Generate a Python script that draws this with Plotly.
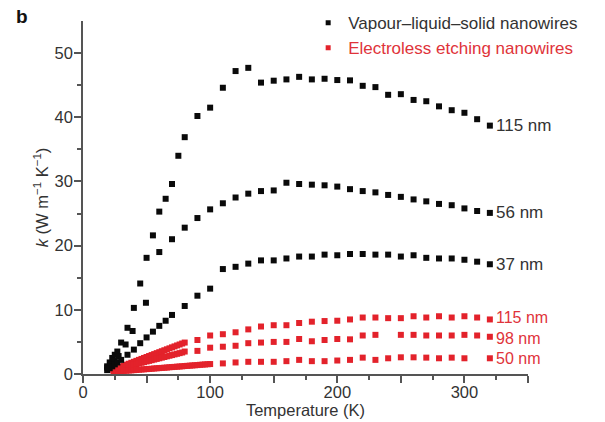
import plotly.graph_objects as go

# ---------------- data ----------------
# Vapour-liquid-solid nanowires (black)
vls115_T = [19, 21, 23, 25, 27, 30, 35, 40, 45, 50, 55, 60, 65, 70, 75, 80, 90, 100, 110, 120, 130, 140, 150,
            160, 170, 180, 190, 200, 210, 220, 230, 240, 250, 260, 270, 280, 290, 300, 310, 320]
vls115_k = [1.2, 1.8, 2.5, 3.0, 3.5, 4.9, 7.2, 10.3, 14.1, 18.1, 21.6, 25.3, 27.3, 29.6, 34.0, 36.9, 40.2, 41.5,
            44.6, 47.2, 47.7, 45.4, 45.7, 45.9, 46.3, 45.9, 46.0, 45.8, 45.75, 44.9, 44.7, 43.5, 43.6, 42.7,
            42.5, 41.7, 41.1, 40.7, 39.7, 38.7]

vls56_T = [19, 22, 25, 28, 33.5, 39, 49.5, 60, 70, 80, 90, 100, 110, 120, 130, 140, 150, 160, 170, 180, 190,
           200, 210, 220, 230, 240, 250, 260, 270, 280, 290, 300, 310, 320]
vls56_k = [1.0, 1.5, 2.1, 2.8, 4.6, 6.7, 11.1, 19.0, 21.0, 22.8, 24.3, 25.65, 26.6, 27.5, 28.1, 28.5, 28.6, 29.8,
           29.6, 29.5, 29.4, 29.2, 28.8, 28.5, 28.3, 27.9, 27.6, 27.2, 26.9, 26.5, 26.3, 25.8, 25.4, 25.1]

vls37_T = [19, 21, 23, 25, 27, 30, 35, 40, 45, 50, 55, 60, 65, 70, 80, 90, 100, 110, 120, 130, 140, 150, 160,
           170, 180, 190, 200, 210, 220, 230, 240, 250, 260, 270, 280, 290, 300, 310, 320]
vls37_k = [0.6, 0.9, 1.2, 1.5, 1.8, 2.2, 3.0, 3.8, 4.8, 5.7, 6.6, 7.5, 8.3, 9.2, 10.6, 12.2, 13.3, 16.35, 16.7,
           17.2, 17.7, 17.7, 18.0, 18.3, 18.3, 18.6, 18.5, 18.7, 18.7, 18.6, 18.6, 18.3, 18.5, 18.1, 18.0, 18.0,
           17.8, 17.5, 17.1]

# Electroless etching nanowires (red)
ee115_T = [24, 26, 28, 30, 32, 34, 36, 38, 40, 42, 44, 46, 48, 50, 52, 54, 56, 58, 60, 62, 64, 66, 68, 70, 72,
           74, 76, 78, 80, 90, 100, 110, 120, 130, 140, 150, 160, 170, 180, 190, 200, 210, 220, 230, 240, 250,
           260, 270, 280, 290, 300, 310, 320]
ee115_k = [0.7, 0.85, 1.0, 1.15, 1.3, 1.45, 1.6, 1.75, 1.9, 2.05, 2.2, 2.35, 2.5, 2.65, 2.8, 2.95, 3.1, 3.25,
           3.4, 3.55, 3.7, 3.85, 4.0, 4.15, 4.3, 4.45, 4.6, 4.75, 4.9, 5.3, 6.0, 6.2, 6.5, 6.95, 7.4, 7.6, 7.6,
           7.95, 8.15, 8.25, 8.3, 8.5, 8.8, 8.8, 8.7, 8.7, 9.0, 8.8, 9.0, 8.8, 9.0, 8.8, 8.5]

ee98_T = [24, 26, 28, 30, 32, 34, 36, 38, 40, 42, 44, 46, 48, 50, 52, 54, 56, 58, 60, 62, 64, 66, 68, 70, 72,
          74, 76, 78, 80, 90, 100, 110, 120, 130, 140, 150, 160, 170, 180, 190, 200, 210, 220, 230, 250, 260,
          270, 280, 290, 300, 310, 320]
ee98_k = [0.6, 0.7, 0.8, 0.95, 1.05, 1.15, 1.25, 1.35, 1.45, 1.55, 1.65, 1.75, 1.85, 1.95, 2.05, 2.15, 2.25,
          2.35, 2.45, 2.55, 2.65, 2.75, 2.85, 2.95, 3.05, 3.15, 3.25, 3.35, 3.5, 3.6, 4.1, 4.25, 4.4, 4.8, 4.9,
          5.0, 5.0, 5.45, 5.1, 5.3, 5.45, 5.4, 6.0, 6.1, 6.1, 6.1, 6.0, 6.0, 6.0, 6.1, 6.0, 5.8]

ee50_T = [24, 26, 28, 30, 32, 34, 36, 38, 40, 42, 44, 46, 48, 50, 52, 54, 56, 58, 60, 62, 64, 66, 68, 70, 72,
          74, 76, 78, 80, 82, 84, 86, 88, 90, 92, 94, 96, 98, 100, 110, 120, 130, 140, 150, 160, 170, 180, 190,
          200, 210, 220, 230, 240, 250, 260, 270, 280, 290, 300, 320]
ee50_k = [0.35, 0.38, 0.41, 0.44, 0.48, 0.51, 0.54, 0.57, 0.60, 0.63, 0.67, 0.70, 0.73, 0.76, 0.79, 0.82, 0.86,
          0.89, 0.92, 0.95, 0.98, 1.01, 1.05, 1.08, 1.11, 1.14, 1.17, 1.20, 1.24, 1.27, 1.30, 1.33, 1.36, 1.39,
          1.43, 1.46, 1.49, 1.52, 1.55, 1.65, 1.8, 1.9, 1.9, 1.9, 2.0, 2.2, 2.0, 2.0, 2.1, 2.2, 2.55, 2.2, 2.45,
          2.6, 2.6, 2.55, 2.45, 2.55, 2.45, 2.45]

legend_names = ["Vapour–liquid–solid nanowires", "Electroless etching nanowires"]
black_labels = ["115 nm", "56 nm", "37 nm"]
red_labels = ["115 nm", "98 nm", "50 nm"]
x_tick_vals = [0, 50, 100, 150, 200, 250, 300, 350]
x_tick_text = ["0", "", "100", "", "200", "", "300", ""]
y_tick_vals = [0, 10, 20, 30, 40, 50]
y_tick_text = ["0", "10", "20", "30", "40", "50"]

# ---------------- style ----------------
BLACK = "#0a0a0a"
RED = "#e3222b"
RED_TXT = "#e0333a"
AX = "#555555"
TXT = "#333333"
FONT = "Liberation Sans, Arial, sans-serif"
MS = 6
RED_LABEL_Y = [8.75, 5.6, 2.4]   # label placement (axis units), spaced to avoid overlap

fig = go.Figure()

for T, k in [(ee115_T, ee115_k), (ee98_T, ee98_k), (ee50_T, ee50_k)]:
    fig.add_trace(go.Scatter(x=T, y=k, mode="markers", showlegend=False,
                             marker=dict(symbol="square", size=MS, color=RED, line=dict(width=0))))
for T, k in [(vls115_T, vls115_k), (vls56_T, vls56_k), (vls37_T, vls37_k)]:
    fig.add_trace(go.Scatter(x=T, y=k, mode="markers", showlegend=False,
                             marker=dict(symbol="square", size=MS, color=BLACK, line=dict(width=0))))

# legend entries
fig.add_trace(go.Scatter(x=[None], y=[None], mode="markers",
                         name=f'<span style="color:{TXT}">{legend_names[0]}</span>',
                         marker=dict(symbol="square", size=5, color=BLACK)))
fig.add_trace(go.Scatter(x=[None], y=[None], mode="markers",
                         name=f'<span style="color:{RED_TXT}">{legend_names[1]}</span>',
                         marker=dict(symbol="square", size=5, color=RED)))

# series labels
for lab, T, k in zip(black_labels, [vls115_T, vls56_T, vls37_T], [vls115_k, vls56_k, vls37_k]):
    fig.add_annotation(x=T[-1], y=k[-1], text=lab, showarrow=False, xanchor="left", xshift=4,
                       font=dict(size=17, color=TXT, family=FONT))
for lab, T, ly in zip(red_labels, [ee115_T, ee98_T, ee50_T], RED_LABEL_Y):
    fig.add_annotation(x=T[-1], y=ly, text=lab, showarrow=False, xanchor="left", xshift=4,
                       font=dict(size=16, color=RED_TXT, family=FONT))

fig.add_annotation(x=-0.155, y=1.012, xref="paper", yref="paper", text="<b>b</b>", showarrow=False,
                   xanchor="left", yanchor="middle", font=dict(size=19, color="#111", family=FONT))

fig.update_layout(
    width=605, height=422,
    margin=dict(l=83, r=77, t=21, b=48, autoexpand=False),
    paper_bgcolor="white", plot_bgcolor="white",
    font=dict(family=FONT, size=16.5, color=TXT),
    legend=dict(x=0.506, y=1.045, xanchor="left", yanchor="top",
                bgcolor="rgba(0,0,0,0)", font=dict(size=17, family=FONT), itemwidth=30),
    xaxis=dict(range=[0, 350], showgrid=False, zeroline=False, showline=True, linecolor=AX, linewidth=1.5,
               ticks="outside", ticklen=7, tickwidth=1.5, tickcolor=AX,
               tickmode="array", tickvals=x_tick_vals, ticktext=x_tick_text,
               minor=dict(tickmode="array", tickvals=[25, 75, 125, 175, 225, 275, 325], ticks="outside",
                          ticklen=4, tickwidth=1.5, tickcolor=AX, showgrid=False),
               title=dict(text="Temperature (K)", standoff=4, font=dict(size=16.5)),
               tickfont=dict(size=16.5), ticklabelstandoff=-5, automargin=False),
    yaxis=dict(range=[0, 55], showgrid=False, zeroline=False, showline=True, linecolor=AX, linewidth=1.5,
               ticks="outside", ticklen=7, tickwidth=1.5, tickcolor=AX,
               tickmode="array", tickvals=y_tick_vals, ticktext=y_tick_text,
               minor=dict(tickmode="array", tickvals=[5, 15, 25, 35, 45], ticks="outside",
                          ticklen=4, tickwidth=1.5, tickcolor=AX, showgrid=False),
               title=dict(text="<i>k</i> (W m<sup>−1</sup> K<sup>−1</sup>)", standoff=2, font=dict(size=16.5)),
               tickfont=dict(size=16.5), ticklabelstandoff=-2, automargin=False),
)

# remove the page's default 8 px body margin so the 605x422 figure fills the window exactly
fig.write_html("out.html", config={"displayModeBar": False},
               post_script="document.body.style.margin='0';document.body.style.overflow='hidden';")
